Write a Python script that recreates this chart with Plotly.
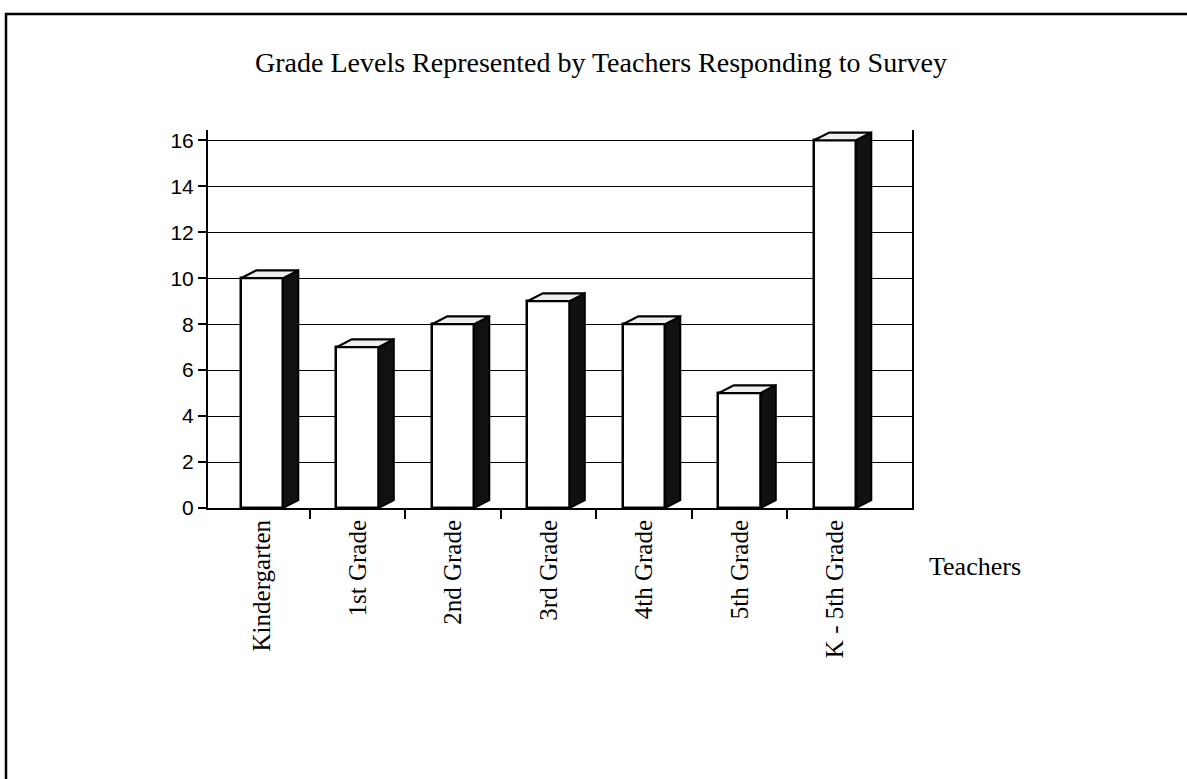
import plotly.graph_objects as go

# ---- data ----
categories = ["Kindergarten", "1st Grade", "2nd Grade", "3rd Grade",
              "4th Grade", "5th Grade", "K - 5th Grade"]
teachers = [10, 7, 8, 9, 8, 5, 16]
series_name = "Teachers"
title_text = "Grade Levels Represented by Teachers Responding to Survey"
y_ticks = [0, 2, 4, 6, 8, 10, 12, 14, 16]

# ---- styling constants ----
SERIF = "Liberation Serif, Times New Roman, serif"
SANS = "Liberation Sans, Arial, sans-serif"
BAR_W = 0.44      # front face width (category units)
DX = 0.16         # depth offset in x (category units)
DY = 0.34         # depth offset in y (value units)
Y_TOP = 16.45     # room above the last gridline for the bar tops

xs = list(range(len(categories)))

fig = go.Figure()

# front faces
fig.add_trace(go.Bar(
    x=xs, y=teachers, width=BAR_W,
    marker=dict(color="white", line=dict(color="black", width=2.5)),
    name=series_name, showlegend=False, hoverinfo="skip",
))

# side faces (dark) and top faces (light), derived from data
h = BAR_W / 2
side_x, side_y, top_x, top_y = [], [], [], []
for i, v in zip(xs, teachers):
    side_x += [i + h, i + h + DX, i + h + DX, i + h, i + h, None]
    side_y += [0, DY, v + DY, v, 0, None]
    top_x += [i - h, i + h, i + h + DX, i - h + DX, i - h, None]
    top_y += [v, v, v + DY, v + DY, v, None]

fig.add_trace(go.Scatter(
    x=side_x, y=side_y, mode="lines", fill="toself",
    fillcolor="#111111", line=dict(color="black", width=2),
    showlegend=False, hoverinfo="skip",
))
fig.add_trace(go.Scatter(
    x=top_x, y=top_y, mode="lines", fill="toself",
    fillcolor="#eeeeee", line=dict(color="black", width=2.2),
    showlegend=False, hoverinfo="skip",
))

L, R, T, B = 208, 1187 - 912, 130, 779 - 508
plot_w = 1187 - L - R
plot_h = 779 - T - B
C0, STEP = 262, 95.5   # pixel centre of first category, category spacing

fig.update_layout(
    width=1187, height=779, autosize=False,
    margin=dict(l=L, r=R, t=T, b=B, pad=0),
    paper_bgcolor="white", plot_bgcolor="white",
    title=dict(text=title_text, x=601 / 1187, xanchor="center",
               y=1 - 62 / 779, yanchor="middle",
               font=dict(family=SERIF, size=28, color="black")),
    bargap=0,
    xaxis=dict(
        range=[-(C0 - L) / STEP, (912 - C0) / STEP],
        tickmode="array", tickvals=xs, ticktext=categories,
        tickangle=-90, ticks="",
        tickfont=dict(family=SERIF, size=25, color="black"),
        showgrid=False, zeroline=False,
        showline=True, linecolor="black", linewidth=2,
        minor=dict(tickmode="array", tickvals=[i + 0.5 for i in xs[:-1]],
                   ticks="outside", ticklen=9, tickcolor="black",
                   tickwidth=1.5, showgrid=False),
    ),
    yaxis=dict(
        range=[0, Y_TOP], tickmode="array", tickvals=y_ticks,
        ticks="outside", ticklen=8, tickcolor="black", tickwidth=1.5,
        tickfont=dict(family=SANS, size=21, color="black"),
        showgrid=True, gridcolor="black", gridwidth=1.2,
        zeroline=False, showline=True, linecolor="black", linewidth=2,
        mirror=True,
    ),
)

# series (depth) axis label
fig.add_annotation(
    text=series_name, xref="paper", yref="paper",
    x=(927 - L) / plot_w, y=(508 - 566) / plot_h,
    xanchor="left", yanchor="middle", showarrow=False,
    font=dict(family=SERIF, size=26, color="black"),
)

# outer frame of the chart area
fig.add_shape(
    type="rect", xref="paper", yref="paper",
    x0=(6 - L) / plot_w, x1=(1200 - L) / plot_w,
    y0=(508 - 800) / plot_h, y1=(508 - 14) / plot_h,
    line=dict(color="black", width=2.5), fillcolor="rgba(0,0,0,0)",
    layer="above",
)

fig.write_html("out.html", config={"displayModeBar": False},
               post_script="document.body.style.margin='0';")
